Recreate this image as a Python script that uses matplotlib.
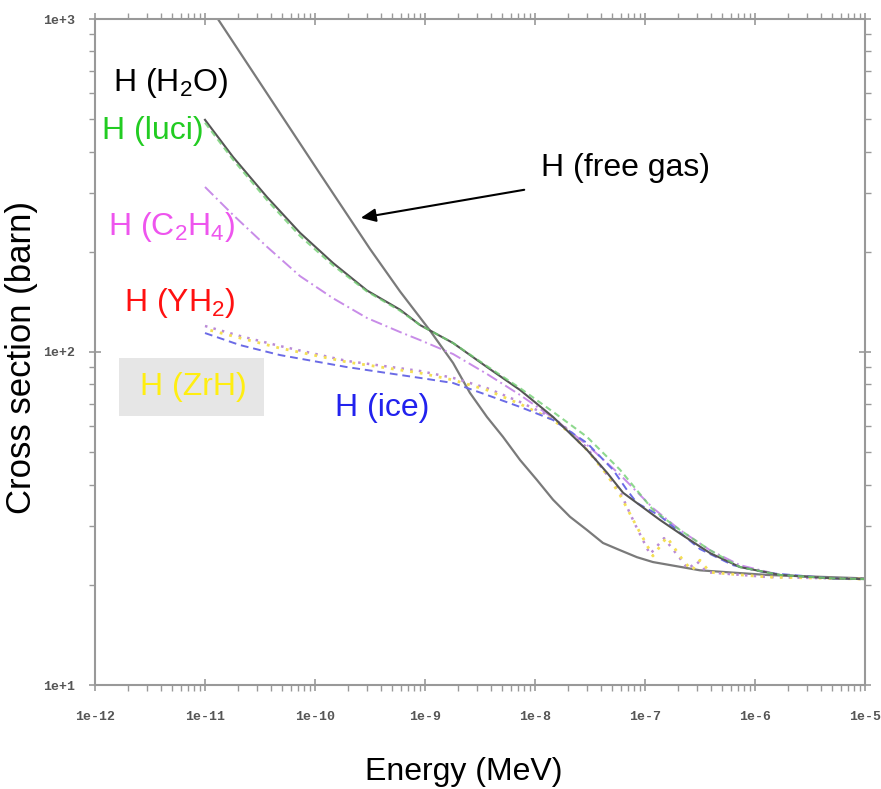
import matplotlib
matplotlib.use("Agg")
import matplotlib.pyplot as plt
from matplotlib.patches import Rectangle
from matplotlib.ticker import LogLocator, NullFormatter

plt.rcParams["font.family"] = ["Liberation Sans", "DejaVu Sans"]
plt.rcParams["mathtext.fontset"] = "custom"
plt.rcParams["mathtext.rm"] = "Liberation Sans"

# ---- data (energy in MeV, cross section in barn) ----
e_free = [1.31e-11, 3.90e-11, 1.11e-10, 3.16e-10, 5.93e-10, 1.11e-9, 1.80e-9, 2.56e-9,
          3.66e-9, 5.12e-9, 7.31e-9, 1.04e-8, 1.46e-8, 2.08e-8, 2.97e-8, 4.15e-8,
          5.93e-8, 8.45e-8, 1.18e-7, 3.16e-7, 1.29e-6, 1.0e-5]
xs_free = [1000, 579, 343, 204, 152, 116, 92.7, 75.4, 63.8, 55.6, 47.4, 41.3, 36.0, 32.0,
           29.2, 26.7, 25.4, 24.2, 23.4, 22.1, 21.4, 20.9]

e_h2o = [1.0e-11, 1.80e-11, 3.66e-11, 7.31e-11, 1.46e-10, 2.97e-10, 5.93e-10, 9.01e-10,
         1.80e-9, 3.66e-9, 7.31e-9, 1.46e-8, 2.97e-8, 4.52e-8, 6.31e-8, 8.45e-8,
         1.37e-7, 2.08e-7, 3.90e-7, 7.31e-7, 1.69e-6, 5.12e-6, 1.0e-5]
xs_h2o = [498, 385, 292, 228, 185, 153, 134, 120.5, 106.4, 90.1, 76.9, 63.8, 50.8, 43.4,
          37.8, 35.2, 31.3, 28.5, 24.9, 22.6, 21.4, 20.9, 20.8]

e_luci = [1.0e-11, 1.80e-11, 3.66e-11, 7.31e-11, 1.46e-10, 2.97e-10, 5.93e-10, 9.01e-10,
          1.80e-9, 3.66e-9, 7.31e-9, 1.46e-8, 2.97e-8, 5.93e-8, 1.18e-7, 2.08e-7,
          3.90e-7, 7.31e-7, 1.69e-6, 5.12e-6, 1.0e-5]
xs_luci = [488, 378, 286, 223, 182, 152, 133, 120.5, 106.4, 90.7, 77.9, 66.1, 55.6, 44.3,
           33.6, 29.2, 25.4, 22.6, 21.4, 20.9, 20.8]

e_c2h4 = [1.0e-11, 1.80e-11, 3.66e-11, 7.31e-11, 1.46e-10, 2.97e-10, 5.93e-10, 9.01e-10,
          1.80e-9, 3.66e-9, 7.31e-9, 1.46e-8, 2.97e-8, 5.93e-8, 1.18e-7, 2.08e-7,
          3.90e-7, 7.31e-7, 1.69e-6, 5.12e-6, 1.0e-5]
xs_c2h4 = [313, 258, 207, 169, 145, 126.5, 114.8, 108.6, 98.6, 85.9, 74.3, 63.4, 52.6,
           42.8, 34.0, 29.2, 25.4, 22.9, 21.4, 20.9, 20.8]

e_zrh = [1.0e-11, 2.08e-11, 4.81e-11, 1.95e-10, 9.01e-10, 1.80e-9, 3.66e-9, 7.31e-9,
         1.46e-8, 2.08e-8, 2.97e-8, 4.52e-8, 5.93e-8, 8.45e-8, 1.18e-7, 1.58e-7,
         2.21e-7, 2.67e-7, 3.16e-7, 3.90e-7, 6.31e-7, 1.29e-6, 5.12e-6, 1.0e-5]
xs_zrh = [117.3, 110.2, 102.7, 93.3, 86.5, 82.4, 76.9, 69.8, 62.5, 57.2, 50.8, 42.8,
          37.2, 29.8, 24.4, 27.8, 23.7, 22.1, 23.7, 21.8, 21.5, 21.1, 20.9, 20.8]

e_yh2 = [1.0e-11, 2.08e-11, 4.81e-11, 1.95e-10, 9.01e-10, 1.80e-9, 3.66e-9, 7.31e-9,
         1.46e-8, 2.08e-8, 2.97e-8, 4.33e-8, 5.93e-8, 8.11e-8, 1.11e-7, 1.49e-7,
         2.08e-7, 2.46e-7, 2.97e-7, 3.66e-7, 6.31e-7, 1.29e-6, 5.12e-6, 1.0e-5]
xs_yh2 = [119.7, 111.7, 104.2, 94.0, 87.7, 83.6, 77.9, 70.8, 63.4, 57.9, 51.5, 43.6,
          38.0, 30.4, 24.7, 27.6, 24.0, 22.3, 23.5, 21.8, 21.5, 21.1, 20.9, 20.8]

e_ice = [1.0e-11, 2.08e-11, 4.81e-11, 1.95e-10, 9.01e-10, 1.80e-9, 3.66e-9, 7.31e-9,
         1.46e-8, 2.97e-8, 5.12e-8, 6.86e-8, 8.45e-8, 1.37e-7, 3.16e-7, 6.31e-7,
         1.29e-6, 5.12e-6, 1.0e-5]
xs_ice = [114.0, 104.9, 97.9, 90.1, 83.6, 80.7, 74.3, 68.4, 62.5, 53.3, 44.3, 38.5,
          35.2, 32.2, 25.6, 22.9, 21.7, 20.9, 20.8]

x_ticks = [1e-12, 1e-11, 1e-10, 1e-9, 1e-8, 1e-7, 1e-6, 1e-5]
x_tick_labels = ["1e-12", "1e-11", "1e-10", "1e-9", "1e-8", "1e-7", "1e-6", "1e-5"]
y_ticks = [1e1, 1e2, 1e3]
y_tick_labels = ["1e+1", "1e+2", "1e+3"]

W, H = 881, 789
fig = plt.figure(figsize=(W / 100, H / 100), dpi=100)
ax = fig.add_axes([95 / W, 1 - 685 / H, 770 / W, 666 / H])

ax.plot(e_free, xs_free, color="#7a7a7a", lw=1.6)
ax.plot(e_c2h4, xs_c2h4, color="#c88ce8", lw=1.4, ls=(0, (6, 2, 1, 2)))
ax.plot(e_yh2, xs_yh2, color="#b98ad6", lw=1.8, ls=(0, (1, 2.5)))
ax.plot(e_zrh, xs_zrh, color="#f4df55", lw=2.0, ls=(1.5, (1, 2.5)))
ax.plot(e_ice, xs_ice, color="#6b6be6", lw=1.4, ls=(0, (4, 2.5)))
ax.plot(e_h2o, xs_h2o, color="#555555", lw=1.5)
ax.plot(e_luci, xs_luci, color="#72cf72", lw=1.5, ls=(0, (3, 2)), alpha=0.8)

ax.set_xscale("log")
ax.set_yscale("log")
ax.set_xlim(1e-12, 1e-5)
ax.set_ylim(1e1, 1e3)

ax.set_xticks(x_ticks)
ax.set_xticklabels(x_tick_labels)
ax.set_yticks(y_ticks)
ax.set_yticklabels(y_tick_labels)
ax.xaxis.set_minor_locator(LogLocator(base=10, subs=range(2, 10), numticks=20))
ax.yaxis.set_minor_locator(LogLocator(base=10, subs=range(2, 10), numticks=20))
ax.xaxis.set_minor_formatter(NullFormatter())
ax.yaxis.set_minor_formatter(NullFormatter())

for s in ax.spines.values():
    s.set_color("#999999")
    s.set_linewidth(1.5)
ax.tick_params(which="major", direction="inout", length=9, width=1.2, color="#999999",
               top=True, right=True)
ax.tick_params(which="minor", direction="out", length=4, width=1.0, color="#999999",
               top=True, right=True)
ax.tick_params(axis="x", which="major", pad=14)
ax.tick_params(axis="y", which="major", pad=10)
for lab in ax.get_xticklabels() + ax.get_yticklabels():
    lab.set_family("Liberation Mono")
    lab.set_fontweight("bold")
    lab.set_fontsize(9.5)
    lab.set_color("#555555")

# axis titles
fig.text(22 / W, 1 - 358 / H, "Cross section (barn)", rotation=90, ha="center",
         va="center", fontsize=25)
fig.text(464 / W, 1 - 772 / H, "Energy (MeV)", ha="center", va="center", fontsize=23)

# curve labels
fs = 23
fig.text(113 / W, 1 - 78 / H, r"H (H$\mathregular{_2}$O)", color="black", fontsize=fs,
         va="center_baseline")
fig.text(102 / W, 1 - 131 / H, "H (luci)", color="#22cc22", fontsize=fs, va="center")
fig.text(108 / W, 1 - 222 / H, r"H (C$\mathregular{_2}$H$\mathregular{_4}$)",
         color="#ee55ee", fontsize=fs, va="center_baseline")
fig.text(124 / W, 1 - 298 / H, r"H (YH$\mathregular{_2}$)", color="#ff1111",
         fontsize=fs, va="center_baseline")
fig.patches.append(Rectangle((119 / W, 1 - 416 / H), 145 / W, 58 / H,
                             transform=fig.transFigure, facecolor="#e6e6e6",
                             edgecolor="none", zorder=0))
fig.text(140 / W, 1 - 387 / H, "H (ZrH)", color="#ffee11", fontsize=fs, va="center")
fig.text(335 / W, 1 - 408 / H, "H (ice)", color="#2222ee", fontsize=fs, va="center")
fig.text(541 / W, 1 - 168 / H, "H (free gas)", color="black", fontsize=fs, va="center")

ax.annotate("", xy=(2.46e-10, 252), xytext=(8.45e-9, 308),
            arrowprops=dict(arrowstyle="-|>,head_length=0.9,head_width=0.4",
                            color="black", lw=1.5))

fig.savefig("out.png", dpi=100, facecolor="white")
